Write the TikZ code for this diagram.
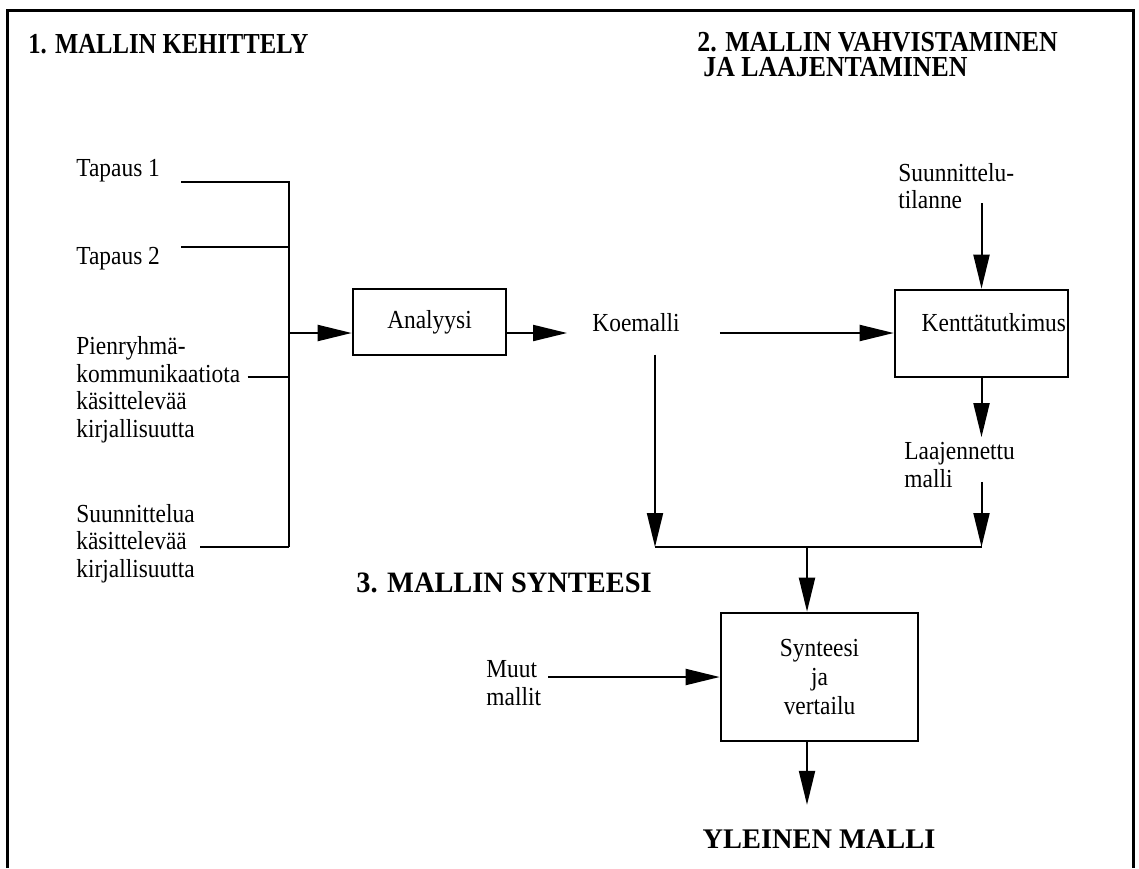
\documentclass[tikz,border=0pt]{standalone}
\usepackage{fontspec}
\setmainfont{Liberation Serif}
\newfontfamily\runko[FakeStretch=0.9]{Liberation Serif}
\usetikzlibrary{arrows.meta}

\tikzset{
  teksti/.style={inner sep=0pt, align=left, font=\runko\fontsize{13}{13.75}\selectfont},
  laatikko/.style={draw, line width=1.3pt, inner sep=2pt, font=\runko\fontsize{13}{13.75}\selectfont},
  otsikko/.style 2 args={inner sep=0pt, align=left, font=\fontsize{#1}{12.5}\selectfont\bfseries\addfontfeature{FakeStretch=#2}},
  viiva/.style={line width=1pt},
  nuoli/.style={viiva, -{Triangle[length=17pt, width=8pt]}},
}

\begin{document}
\begin{tikzpicture}[x=0.5pt, y=-0.5pt]
  \useasboundingbox (0,0) rectangle (1139,868);

  % Kehys
  \draw[line width=1.5pt] (7,868) -- (7,10) -- (1133,10) -- (1133,868);

  % Otsikot
  \node[otsikko={14.5}{0.85}, anchor=base west] (ot1) at (28,53) {1. MALLIN KEHITTELY};
  \node[otsikko={14.5}{0.89}, anchor=north west] (ot2) at (697,32) {2. MALLIN VAHVISTAMINEN\\\hspace*{3pt}JA LAAJENTAMINEN};
  \node[otsikko={14.8}{0.96}, anchor=base west] (ot3) at (356,592) {3. MALLIN SYNTEESI};
  \node[otsikko={14.2}{1}, anchor=base] (yleinen) at (819,848) {YLEINEN MALLI};

  % Lahtoaineistot
  \node[teksti, anchor=west] (tap1) at (76,171) {Tapaus 1};
  \node[teksti, anchor=west] (tap2) at (76,259) {Tapaus 2};
  \node[teksti, anchor=west] (pien) at (76,389.5) {Pienryhmä-\\kommunikaatiota\\käsittelevää\\kirjallisuutta};
  \node[teksti, anchor=west] (suun) at (76,543.5) {Suunnittelua\\käsittelevää\\kirjallisuutta};

  % Kokoojaviiva
  \coordinate (k1) at (289,182);
  \coordinate (k2) at (289,247);
  \coordinate (k3) at (289,377);
  \coordinate (k4) at (289,547);
  \coordinate (kA) at (289,333);
  \draw[viiva, shorten <=10.5pt] (tap1.east |- k1) -- (k1) -- (k4);
  \draw[viiva, shorten <=10.5pt] (tap2.east |- k2) -- (k2);
  \draw[viiva, shorten <=3.5pt] (pien.east |- k3) -- (k3);
  \draw[viiva, shorten <=2.5pt] (suun.east |- k4) -- (k4);

  % Analyysi ja koemalli
  \node[laatikko, minimum width=76.5pt, minimum height=33pt] (ana) at (429.5,322) {Analyysi};
  \node[teksti] (koe) at (636,323) {Koemalli};
  \draw[nuoli] (kA) -- (kA -| ana.west);
  \draw[nuoli, shorten >=12.5pt] (kA -| ana.east) -- (kA -| koe.west);

  % Kenttatutkimus
  \node[laatikko, text width=84.5pt, inner xsep=1pt, minimum height=43.5pt, align=right, text depth=11.5pt] (kentta) at (981.5,333.5) {Kenttätutkimus};
  \node[teksti, anchor=west] (suunt) at (898,186) {Suunnittelu-\\tilanne};
  \node[teksti, anchor=west] (laaj) at (904,465) {Laajennettu\\malli};
  \draw[nuoli, shorten <=20pt] (kA -| koe.east) -- (kA -| kentta.west);
  \draw[nuoli, shorten <=-3pt] (suunt.south -| kentta.north) -- (kentta.north);
  \draw[nuoli, shorten >=2.5pt] (kentta.south) -- (kentta.south |- laaj.north);

  % Yhdistava viiva
  \coordinate (yK) at (655,547);
  \coordinate (yS) at (807,547);
  \coordinate (yL) at (981.5,547);
  \draw[nuoli, shorten <=11pt] (koe.south -| yK) -- (yK);
  \draw[nuoli, shorten <=-3pt] (laaj.south -| yL) -- (yL);
  \draw[viiva] (yK) -- (yL);

  % Synteesi
  \node[laatikko, align=center, minimum width=98.5pt, minimum height=64pt, font=\runko\fontsize{13}{14.5}\selectfont] (synt) at (819.5,677) {Synteesi\\ja\\vertailu};
  \node[teksti, anchor=west] (muut) at (486,683) {Muut\\mallit};
  \draw[nuoli] (yS) -- (yS |- synt.north);
  \draw[nuoli, shorten <=3.5pt] (muut.east |- synt.west) -- (synt.west);
  \draw[nuoli, shorten >=12pt] (synt.south -| yS) -- (yS |- yleinen.north);
\end{tikzpicture}
\end{document}
